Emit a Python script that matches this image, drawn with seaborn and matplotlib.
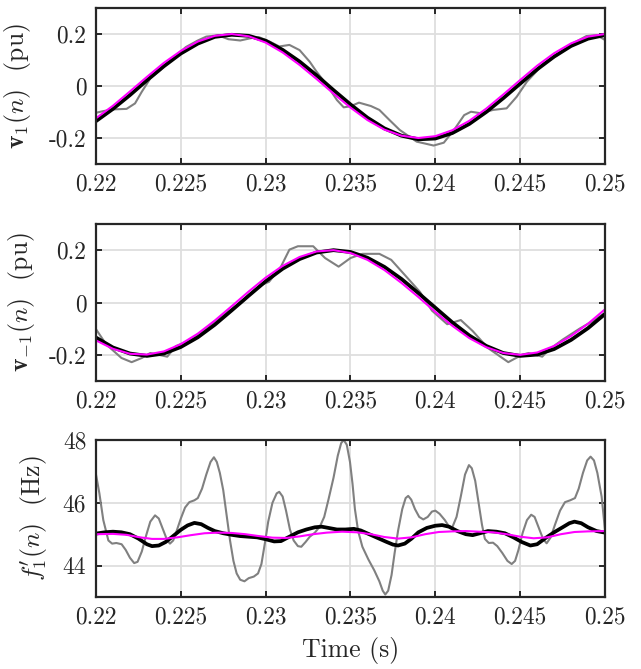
import matplotlib
matplotlib.use("Agg")
import matplotlib.pyplot as plt
import seaborn as sns
import numpy as np

# ---------------- data ----------------
t_grid = [0.220, 0.221, 0.222, 0.223, 0.224, 0.225, 0.226, 0.227, 0.228, 0.229,
          0.230, 0.231, 0.232, 0.233, 0.234, 0.235, 0.236, 0.237, 0.238, 0.239,
          0.240, 0.241, 0.242, 0.243, 0.244, 0.245, 0.246, 0.247, 0.248, 0.249,
          0.250]

# panel 1: v_1(n)
v1_black = [-0.135, -0.088, -0.035, 0.022, 0.076, 0.125, 0.163, 0.189, 0.197, 0.193,
            0.174, 0.139, 0.094, 0.041, -0.016, -0.071, -0.122, -0.163, -0.191, -0.205,
            -0.202, -0.181, -0.146, -0.100, -0.047, 0.009, 0.064, 0.113, 0.154, 0.182,
            0.196]
v1_magenta = [-0.124, -0.076, -0.021, 0.035, 0.089, 0.135, 0.171, 0.193, 0.200, 0.191,
              0.167, 0.129, 0.081, 0.027, -0.029, -0.083, -0.131, -0.168, -0.191, -0.200,
              -0.193, -0.170, -0.134, -0.087, -0.033, 0.023, 0.078, 0.126, 0.164, 0.190,
              0.200]
v1_gray_t = [0.2200, 0.2204, 0.2210, 0.2218, 0.2223, 0.2227, 0.2232, 0.2238, 0.2244, 0.2253,
             0.2260, 0.2265, 0.2272, 0.2278, 0.2285, 0.2292, 0.2296, 0.2302, 0.2308, 0.2314,
             0.2320, 0.2326, 0.2330, 0.2336, 0.2342, 0.2346, 0.2350, 0.2355, 0.2362, 0.2367,
             0.2373, 0.2379, 0.2389, 0.2399, 0.2405, 0.2411, 0.2417, 0.2421, 0.2427, 0.2434,
             0.2442, 0.2448, 0.2454, 0.2464, 0.2472, 0.2481, 0.2489, 0.2495, 0.2500]
v1_gray = [-0.103, -0.097, -0.090, -0.088, -0.067, -0.022, 0.029, 0.062, 0.100, 0.150,
           0.175, 0.190, 0.195, 0.180, 0.175, 0.185, 0.188, 0.172, 0.152, 0.158,
           0.138, 0.093, 0.055, 0.005, -0.054, -0.082, -0.078, -0.064, -0.077, -0.092,
           -0.131, -0.169, -0.214, -0.229, -0.218, -0.169, -0.112, -0.099, -0.105, -0.092,
           -0.086, -0.041, 0.017, 0.087, 0.119, 0.164, 0.192, 0.196, 0.177]

# panel 2: v_-1(n)
vm1_black = [-0.134, -0.172, -0.195, -0.204, -0.195, -0.170, -0.133, -0.085, -0.030, 0.026,
             0.081, 0.129, 0.166, 0.191, 0.200, 0.193, 0.171, 0.136, 0.090, 0.036,
             -0.020, -0.076, -0.126, -0.166, -0.193, -0.204, -0.199, -0.178, -0.143, -0.098,
             -0.044]
vm1_magenta = [-0.145, -0.177, -0.196, -0.199, -0.187, -0.159, -0.119, -0.069, -0.014, 0.042,
               0.095, 0.140, 0.174, 0.195, 0.200, 0.189, 0.163, 0.124, 0.075, 0.021,
               -0.036, -0.089, -0.136, -0.171, -0.193, -0.200, -0.191, -0.166, -0.128, -0.081,
               -0.026]
vm1_gray_t = [0.2200, 0.2206, 0.2215, 0.2221, 0.2227, 0.2232, 0.2237, 0.2242, 0.2247, 0.2255,
              0.2263, 0.2272, 0.2280, 0.2287, 0.2297, 0.2302, 0.2309, 0.2314, 0.2319, 0.2328,
              0.2335, 0.2343, 0.2350, 0.2357, 0.2367, 0.2374, 0.2383, 0.2391, 0.2398, 0.2407,
              0.2415, 0.2422, 0.2431, 0.2443, 0.2451, 0.2455, 0.2463, 0.2467, 0.2475, 0.2485,
              0.2493, 0.2500]
vm1_gray = [-0.102, -0.160, -0.212, -0.228, -0.212, -0.193, -0.200, -0.207, -0.167, -0.145,
            -0.108, -0.062, -0.025, 0.008, 0.066, 0.079, 0.137, 0.202, 0.215, 0.215,
            0.170, 0.137, 0.170, 0.186, 0.186, 0.163, 0.098, 0.040, -0.031, -0.083,
            -0.067, -0.109, -0.174, -0.228, -0.200, -0.193, -0.207, -0.180, -0.142, -0.100,
            -0.070, -0.040]

# panel 3: f'_1(n)
f_gray_t = [0.22000, 0.22020, 0.22043, 0.22073, 0.22095, 0.22120, 0.22151, 0.22175, 0.22200, 0.22225,
            0.22245, 0.22270, 0.22295, 0.22320, 0.22348, 0.22370, 0.22395, 0.22420, 0.22436, 0.22455,
            0.22475, 0.22500, 0.22525, 0.22550, 0.22580, 0.22600, 0.22625, 0.22650, 0.22675, 0.22695,
            0.22712, 0.22730, 0.22750, 0.22770, 0.22790, 0.22810, 0.22829, 0.22850, 0.22875, 0.22900,
            0.22930, 0.22955, 0.22975, 0.22995, 0.23015, 0.23040, 0.23065, 0.23080, 0.23100, 0.23120,
            0.23143, 0.23165, 0.23190, 0.23210, 0.23235, 0.23260, 0.23290, 0.23320, 0.23345, 0.23370,
            0.23400, 0.23425, 0.23445, 0.23460, 0.23478, 0.23497, 0.23512, 0.23526, 0.23545, 0.23570,
            0.23605, 0.23640, 0.23670, 0.23690, 0.23705, 0.23722, 0.23742, 0.23760, 0.23781, 0.23805,
            0.23825, 0.23840, 0.23858, 0.23880, 0.23905, 0.23929, 0.23955, 0.23980, 0.24000, 0.24025,
            0.24056, 0.24080, 0.24100, 0.24125, 0.24150, 0.24175, 0.24198, 0.24215, 0.24235, 0.24255,
            0.24275, 0.24292, 0.24315, 0.24340, 0.24365, 0.24395, 0.24425, 0.24450, 0.24470, 0.24490,
            0.24515, 0.24540, 0.24565, 0.24585, 0.24610, 0.24635, 0.24656, 0.24680, 0.24705, 0.24735,
            0.24764, 0.24795, 0.24823, 0.24845, 0.24870, 0.24895, 0.24915, 0.24935, 0.24955, 0.24980,
            0.25000]
f_gray = [46.90, 46.30, 45.45, 44.80, 44.70, 44.72, 44.68, 44.50, 44.25, 44.08,
          44.12, 44.45, 44.95, 45.40, 45.60, 45.50, 45.15, 44.80, 44.70, 44.80,
          45.10, 45.50, 45.85, 46.02, 46.08, 46.15, 46.45, 46.90, 47.30, 47.45,
          47.30, 46.95, 46.40, 45.60, 44.80, 44.15, 43.75, 43.55, 43.50, 43.60,
          43.65, 43.75, 44.05, 44.70, 45.40, 46.00, 46.30, 46.35, 46.20, 45.75,
          45.15, 44.80, 44.62, 44.60, 44.75, 44.92, 45.05, 45.25, 45.55, 46.10,
          46.80, 47.50, 47.90, 48.00, 47.85, 47.30, 46.60, 45.80, 45.10, 44.60,
          44.20, 43.85, 43.50, 43.20, 43.08, 43.20, 43.70, 44.40, 45.13, 45.80,
          46.15, 46.22, 46.10, 45.80, 45.55, 45.47, 45.55, 45.72, 45.75, 45.65,
          45.45, 45.25, 45.22, 45.55, 46.20, 46.90, 47.20, 47.10, 46.70, 46.00,
          45.30, 44.85, 44.72, 44.73, 44.62, 44.40, 44.15, 44.05, 44.15, 44.50,
          45.05, 45.45, 45.62, 45.55, 45.20, 44.85, 44.71, 44.90, 45.30, 45.75,
          46.02, 46.08, 46.15, 46.45, 46.95, 47.35, 47.47, 47.35, 46.95, 46.20,
          45.13]
f_black_t = [0.2200, 0.2205, 0.2210, 0.2215, 0.2220, 0.2225, 0.2230, 0.2233, 0.2237, 0.2241,
             0.2245, 0.2250, 0.2254, 0.2258, 0.2262, 0.2266, 0.2270, 0.2275, 0.2280, 0.2285,
             0.2290, 0.2295, 0.2300, 0.2305, 0.2309, 0.2314, 0.2319, 0.2324, 0.2329, 0.2333,
             0.2337, 0.2342, 0.2347, 0.2352, 0.2356, 0.2361, 0.2366, 0.2371, 0.2375, 0.2378,
             0.2382, 0.2386, 0.2390, 0.2395, 0.2400, 0.2404, 0.2408, 0.2413, 0.2418, 0.2422,
             0.2427, 0.2431, 0.2436, 0.2441, 0.2446, 0.2451, 0.2456, 0.2460, 0.2465, 0.2470,
             0.2475, 0.2479, 0.2482, 0.2486, 0.2490, 0.2495, 0.2500]
f_black = [45.02, 45.06, 45.08, 45.06, 45.00, 44.86, 44.68, 44.62, 44.64, 44.75,
           44.92, 45.14, 45.28, 45.36, 45.32, 45.20, 45.10, 45.03, 44.98, 44.94,
           44.92, 44.90, 44.84, 44.77, 44.78, 44.92, 45.06, 45.15, 45.22, 45.24,
           45.20, 45.15, 45.15, 45.17, 45.12, 45.00, 44.88, 44.76, 44.67, 44.64,
           44.70, 44.86, 45.06, 45.20, 45.27, 45.29, 45.24, 45.10, 45.00, 44.97,
           45.04, 45.10, 45.08, 45.03, 44.90, 44.75, 44.64, 44.68, 44.88, 45.06,
           45.22, 45.35, 45.40, 45.35, 45.22, 45.10, 45.05]
f_mag_t = [0.2200, 0.2210, 0.2218, 0.2226, 0.2233, 0.2240, 0.2248, 0.2256, 0.2264, 0.2272,
           0.2280, 0.2288, 0.2296, 0.2304, 0.2312, 0.2320, 0.2328, 0.2336, 0.2345, 0.2354,
           0.2362, 0.2370, 0.2378, 0.2386, 0.2394, 0.2402, 0.2410, 0.2418, 0.2426, 0.2434,
           0.2442, 0.2450, 0.2458, 0.2466, 0.2474, 0.2482, 0.2490, 0.2500]
f_mag = [45.00, 45.01, 44.98, 44.90, 44.85, 44.85, 44.90, 44.97, 45.03, 45.05,
         45.04, 45.00, 44.94, 44.89, 44.88, 44.93, 45.00, 45.05, 45.08, 45.06,
         45.00, 44.91, 44.86, 44.90, 45.00, 45.07, 45.09, 45.10, 45.08, 45.06,
         45.00, 44.92, 44.87, 44.90, 45.00, 45.07, 45.09, 45.10]

x_ticks = [0.22, 0.225, 0.23, 0.235, 0.24, 0.245, 0.25]
x_ticklabels = ["0.22", "0.225", "0.23", "0.235", "0.24", "0.245", "0.25"]
v_ticks = [-0.2, 0, 0.2]
v_ticklabels = ["-0.2", "0", "0.2"]
f_ticks = [44, 46, 48]
f_ticklabels = ["44", "46", "48"]
ylabels = [r"$\mathbf{v}_1(n)$  (pu)", r"$\mathbf{v}_{-1}(n)$  (pu)", r"$f_1'(n)$  (Hz)"]
xlabel = "Time (s)"

# ---------------- style ----------------
sns.set_theme(style="white")
plt.rcParams["font.family"] = ["serif"]
plt.rcParams["font.serif"] = ["cmr10"]
plt.rcParams["mathtext.fontset"] = "cm"
plt.rcParams["axes.unicode_minus"] = False

GRAY = "#808080"
MAG = "#ff00ff"
FS = 16.8
LFS = 18.5
TXT = "#262626"

fig = plt.figure(figsize=(6.41, 6.69), dpi=100)
L, W = 96 / 641, (605 - 96) / 641
boxes = [(8, 164), (224, 381), (440, 597)]
axes = []
for top, bot in boxes:
    axes.append(fig.add_axes([L, 1 - bot / 669, W, (bot - top) / 669]))

panels = [
    (v1_gray_t, v1_gray, t_grid, v1_black, t_grid, v1_magenta, (-0.3, 0.3), v_ticks, v_ticklabels),
    (vm1_gray_t, vm1_gray, t_grid, vm1_black, t_grid, vm1_magenta, (-0.3, 0.3), v_ticks, v_ticklabels),
    (f_gray_t, f_gray, f_black_t, f_black, f_mag_t, f_mag, (43, 48), f_ticks, f_ticklabels),
]
label_x = [-0.124, -0.116, -0.090]

for i, (ax, p) in enumerate(zip(axes, panels)):
    gt, gv, bt, bv, mt, mv, ylim, yt, ytl = p
    sns.lineplot(x=gt, y=gv, ax=ax, color=GRAY, linewidth=1.5, sort=False, estimator=None)
    sns.lineplot(x=bt, y=bv, ax=ax, color="black", linewidth=2.7, sort=False, estimator=None)
    sns.lineplot(x=mt, y=mv, ax=ax, color=MAG, linewidth=1.5, sort=False, estimator=None)
    ax.set_xlim(0.22, 0.25)
    ax.set_ylim(*ylim)
    ax.set_xticks(x_ticks)
    ax.set_xticklabels(x_ticklabels)
    ax.set_yticks(yt)
    ax.set_yticklabels(ytl)
    ax.grid(True, color="#dedede", linewidth=1.3)
    ax.set_axisbelow(True)
    for s in ax.spines.values():
        s.set_visible(True)
        s.set_color(TXT)
        s.set_linewidth(1.6)
    ax.tick_params(axis="both", which="both", direction="in", length=4.5, width=1.4,
                   color=TXT, top=True, right=True, bottom=True, left=True,
                   labelsize=FS, labelcolor=TXT, pad=7)
    ax.set_ylabel(ylabels[i], fontsize=LFS, color=TXT)
    ax.yaxis.set_label_coords(label_x[i], 0.5)
    ax.set_xlabel("")

axes[2].set_xlabel(xlabel, fontsize=LFS, color=TXT, labelpad=6)

fig.savefig("out.png", dpi=100)
